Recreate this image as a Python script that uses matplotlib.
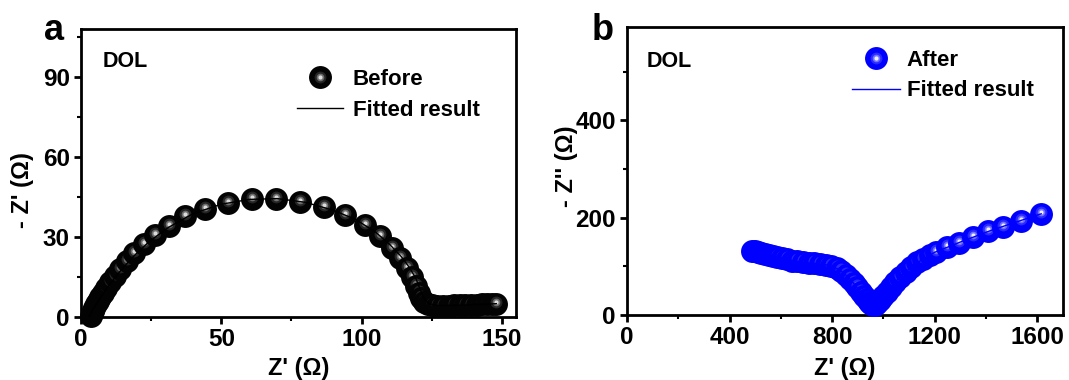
import matplotlib
matplotlib.use("Agg")
import matplotlib.pyplot as plt
from matplotlib.lines import Line2D
from matplotlib.legend_handler import HandlerTuple
import matplotlib.transforms as mtransforms

plt.rcParams['font.family'] = ['Liberation Sans', 'DejaVu Sans']
plt.rcParams['font.weight'] = 'bold'
plt.rcParams['axes.labelweight'] = 'bold'

# Panel a: before cycling (Nyquist data, ohm)
before_re = [3.5, 3.8, 4.2, 4.7, 5.3, 6.0, 6.8, 7.8, 9.0, 10.3, 12.0, 14.0, 16.5,
             19.0, 22.3, 26.5, 31.3, 37.1, 44.3, 52.4, 60.8, 69.6, 78.0, 86.7,
             94.2, 101.2, 106.6, 110.8, 113.8, 116.2, 118.0, 119.3, 120.3, 121.2,
             122.3, 123.6, 125.2, 127.0, 129.0, 131.0, 133.0, 135.0, 137.0, 139.0,
             141.0, 143.0, 144.8, 146.5, 148.0]
before_im = [0.5, 1.4, 2.4, 3.5, 4.7, 6.0, 7.4, 9.1, 11.0, 13.1, 15.4, 18.0, 20.9,
             23.9, 27.2, 30.7, 34.0, 37.8, 40.6, 42.8, 44.2, 44.3, 43.3, 41.1,
             38.2, 34.6, 30.4, 26.0, 22.2, 18.5, 14.9, 11.8, 9.0, 7.0,
             5.6, 4.8, 4.4, 4.3, 4.3, 4.3, 4.4, 4.4, 4.5, 4.5,
             4.6, 4.7, 4.8, 4.9, 5.0]
fit_a_re = [2.8, 4.0, 6.0, 9.0, 13.0, 18.0, 24.0, 31.0, 40.0, 50.0, 60.0, 70.0,
            80.0, 90.0, 98.0, 105.0, 110.0, 114.0, 117.0, 119.3, 120.8, 122.2,
            124.0, 127.0, 135.0, 148.0]
fit_a_im = [0.0, 2.5, 5.8, 10.5, 16.0, 22.0, 28.0, 33.5, 38.8, 42.3, 44.1, 44.4,
            43.0, 40.0, 36.5, 31.8, 27.2, 22.8, 18.6, 14.5, 10.5, 7.0,
            5.0, 4.3, 4.4, 5.0]

# Panel b: after cycling
after_re = [487, 498, 510, 523, 537, 552, 568, 585, 603, 622, 642, 663, 685, 708,
            731, 754, 776, 797, 817, 836, 853, 869, 884, 898, 911, 923, 934, 944,
            953, 961, 968, 976, 986, 998, 1012, 1028, 1046, 1065, 1086, 1108,
            1131, 1155, 1180, 1206, 1247, 1296, 1349, 1409, 1465, 1538, 1615]
after_im = [131, 131, 130, 128, 126, 124, 122, 120, 117, 115, 112, 110, 108, 107,
            106, 105, 103, 100, 96, 90, 83, 75, 66, 57, 48, 40, 32, 26,
            22, 20, 21, 25, 31, 39, 48, 58, 68, 79, 89, 99,
            108, 116, 123, 130, 140, 149, 160, 172, 181, 194, 208]
fit_b_re = [487, 540, 600, 660, 720, 780, 830, 870, 905, 935, 955, 965, 980, 1010,
            1060, 1120, 1200, 1300, 1420, 1540, 1615]
fit_b_im = [131, 126, 118, 110, 106, 103, 93, 74, 51, 31, 21, 19, 26, 46,
            76, 104, 129, 150, 174, 195, 208]

fig = plt.figure(figsize=(10.69, 3.80), dpi=100)
ax1 = fig.add_axes([81 / 1069, 1 - 317 / 380, 435 / 1069, 288 / 380])
ax2 = fig.add_axes([627 / 1069, 1 - 315 / 380, 436 / 1069, 288 / 380])

# sphere look: dark body, then smaller and lighter discs for the highlight
MS = 16.5
layers_a = [('#030303', MS), ('#262626', 8.5), ('#6e6e6e', 5.5), ('#dcdcdc', 3)]
layers_b = [('#0000ff', MS), ('#2a2aff', 8.5), ('#7272ff', 5.5), ('#eeeeff', 3)]


def draw_spheres(ax, xs, ys, layers):
    up = mtransforms.offset_copy(ax.transData, fig=fig, x=0, y=2, units='dots')
    for i, (x, y) in enumerate(zip(xs, ys)):
        for j, (c, s) in enumerate(layers):
            tr = ax.transData if j == 0 else up
            ax.plot([x], [y], 'o', ms=s, color=c, mew=0, transform=tr,
                    zorder=3 + i * 0.01 + j * 0.001, clip_on=False)


def sphere_handle(layers):
    return tuple(Line2D([], [], ls='none', marker='o', ms=s, color=c, mew=0)
                 for c, s in layers)


draw_spheres(ax1, before_re, before_im, layers_a)
ax1.plot(fit_a_re, fit_a_im, color='black', lw=1, zorder=10)
draw_spheres(ax2, after_re, after_im, layers_b)
ax2.plot(fit_b_re, fit_b_im, color='#0000ff', lw=1, zorder=10)

ax1.set_xlim(0, 155)
ax1.set_ylim(0, 108)
ax1.set_xticks([0, 50, 100, 150])
ax1.set_xticks([25, 75, 125], minor=True)
ax1.set_yticks([0, 30, 60, 90])
ax1.set_yticks([15, 45, 75, 105], minor=True)

ax2.set_xlim(0, 1700)
ax2.set_ylim(0, 592)
ax2.set_xticks([0, 400, 800, 1200, 1600])
ax2.set_xticks([200, 600, 1000, 1400], minor=True)
ax2.set_yticks([0, 200, 400])
ax2.set_yticks([100, 300, 500], minor=True)

for ax in (ax1, ax2):
    for sp in ax.spines.values():
        sp.set_linewidth(2)
    ax.tick_params(which='major', direction='out', length=5, width=2,
                   labelsize=17.5, pad=3)
    ax.tick_params(which='minor', direction='out', length=3, width=1.5)
    for lab in ax.get_xticklabels() + ax.get_yticklabels():
        lab.set_fontweight('bold')

ax1.set_xlabel("Z' (\u03a9)", fontsize=17)
ax1.set_ylabel("- Z' (\u03a9)", fontsize=17)
ax1.yaxis.set_label_coords(-0.108, 0.44)
ax1.xaxis.set_label_coords(0.5, -0.14)
ax2.set_xlabel("Z' (\u03a9)", fontsize=17)
ax2.set_ylabel("- Z'' (\u03a9)", fontsize=17)
ax2.yaxis.set_label_coords(-0.112, 0.517)
ax2.xaxis.set_label_coords(0.5, -0.145)

ax1.text(0.05, 0.868, 'DOL', transform=ax1.transAxes, fontsize=15.5,
         fontweight='bold', va='baseline')
ax2.text(0.044, 0.861, 'DOL', transform=ax2.transAxes, fontsize=15.5,
         fontweight='bold', va='baseline')

fig.text(44 / 1069, 1 - 40 / 380, 'a', fontsize=26, fontweight='bold', va='baseline')
fig.text(592 / 1069, 1 - 40 / 380, 'b', fontsize=26, fontweight='bold', va='baseline')

leg1 = ax1.legend([sphere_handle(layers_a), Line2D([], [], color='black', lw=1)],
                  ['Before', 'Fitted result'],
                  handler_map={tuple: HandlerTuple(ndivide=1)},
                  loc='upper left', bbox_to_anchor=(297 / 1069, 1 - 69 / 380),
                  bbox_transform=fig.transFigure, frameon=False, fontsize=16,
                  borderpad=0, borderaxespad=0, handlelength=2.05,
                  handletextpad=0.45, labelspacing=0.45)
leg2 = ax2.legend([sphere_handle(layers_b), Line2D([], [], color='#0000ff', lw=1)],
                  ['After', 'Fitted result'],
                  handler_map={tuple: HandlerTuple(ndivide=1)},
                  loc='upper left', bbox_to_anchor=(852 / 1069, 1 - 50 / 380),
                  bbox_transform=fig.transFigure, frameon=False, fontsize=16,
                  borderpad=0, borderaxespad=0, handlelength=2.15,
                  handletextpad=0.32, labelspacing=0.42)
for leg in (leg1, leg2):
    for t in leg.get_texts():
        t.set_fontweight('bold')

fig.savefig('out.png', dpi=100)
